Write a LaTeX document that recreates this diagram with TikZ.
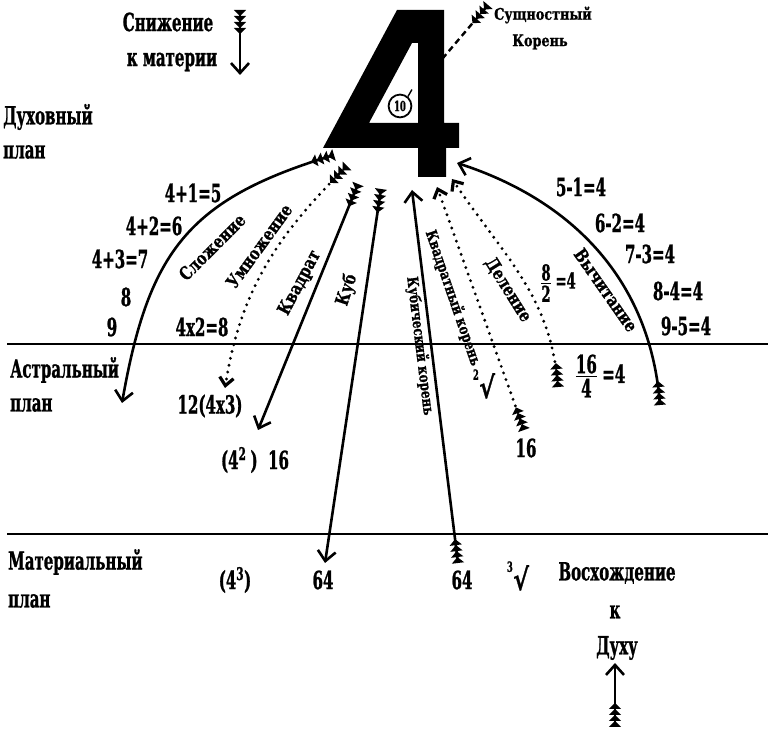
\documentclass[tikz,border=0pt]{standalone}
\usepackage{amsmath}
\usepackage{fontspec}
\setmainfont{DejaVu Serif}[FakeStretch=0.6, BoldFeatures={FakeBold=1}]
\newfontfamily\arrowfont{DejaVu Serif}[FakeStretch=0.8, BoldFeatures={FakeBold=1}]
\usepackage{tikz}
\usetikzlibrary{arrows.meta}
\newcommand\radix[1]{{\fontsize{14}{14}\selectfont\raisebox{1.3em}{#1}}\kern0.5pt{\arrowfont\fontsize{30}{30}\selectfont√}}
\newcommand\frc[2]{$\genfrac{}{}{1.4pt}{}{\mbox{#1}}{\mbox{#2}}$}
\tikzset{
  Fletch/.tip={Triangle[reversed,length=6pt,width=12pt]Triangle[reversed,length=6pt,width=12pt]Triangle[reversed,length=6pt,width=12pt]Triangle[reversed,length=6pt,width=12pt]},
  Head/.tip={Straight Barb[length=10pt,width=18pt]},
  Barb/.tip={Straight Barb[length=8pt,width=14pt]}
}

\begin{document}
\begin{tikzpicture}[x=1pt,y=1pt,
    txt/.style={font=\fontsize{25}{27}\selectfont\bfseries, inner sep=0pt},
    plane/.style={txt, anchor=west},
    lab/.style={font=\arrowfont\fontsize{18}{18}\selectfont\bfseries, inner sep=0pt},
    rlab/.style={font=\arrowfont\fontsize{15}{15}\selectfont\bfseries, inner sep=0pt},
    shaft/.style={line width=2.6pt},
    dots/.style={line width=3.2pt, dash pattern=on 0pt off 7pt, line cap=round},
    arr/.style={shaft, Fletch-Head},
    darr/.style={dots, Fletch-Barb}]
    \useasboundingbox (0,0) rectangle (768,730);
    \coordinate (down-t) at (240,720);
    \coordinate (down-h) at (240,655);
    \coordinate (ess-t) at (488,725);
    \coordinate (ess-h) at (443,672);
    \coordinate (add-t) at (334,575);
    \coordinate (add-h) at (122,327);
    \coordinate (mul-t) at (347,564);
    \coordinate (mul-h) at (225,342);
    \coordinate (sq-t) at (358,546);
    \coordinate (sq-h) at (258,300);
    \coordinate (cube-t) at (381,541);
    \coordinate (cube-h) at (325,167);
    \coordinate (cbrt-t) at (458,167);
    \coordinate (cbrt-h) at (412,540);
    \coordinate (sqrt-t) at (524,300);
    \coordinate (sqrt-h) at (437,543);
    \coordinate (div-t) at (558,343);
    \coordinate (div-h) at (452,551);
    \coordinate (sub-t) at (660,325);
    \coordinate (sub-h) at (457,567);
    \coordinate (up-t) at (615,3);
    \coordinate (up-h) at (615,67);
    % planes
    \draw[line width=2.4pt] (7,386) -- (768,386);
    \draw[line width=2.4pt] (7,196) -- (768,196);
    \node[plane] (spirit) at (3,613) {Духовный};
    \node[plane] (spirit2) at (3,578) {план};
    \node[plane] (astral) at (10,360) {Астральный};
    \node[plane] (astral2) at (10,325) {план};
    \node[plane] (mater) at (8,168) {Материальный};
    \node[plane] (mater2) at (8,129) {план};
    % the four
    \fill[even odd rule] (397,720) -- (444,720) -- (444,607) -- (459,607) -- (459,582) -- (446,582)
        -- (446,553) -- (418,553) -- (418,582) -- (323,582) -- cycle
        (412,687) -- (418,687) -- (418,607) -- (369,607) -- cycle;
    \node[circle, draw, line width=1.8pt, inner sep=2.5pt, font=\fontsize{14}{14}\selectfont\bfseries] (ten) at (400,624) {10};
    \draw[line width=1.4pt] (ten.50) -- ++(4,7);
    \draw[line width=2.4pt, dash pattern=on 6pt off 4pt, Fletch-] (ess-t) -- (ess-h);
    \node[lab, font=\arrowfont\fontsize{16}{16}\selectfont\bfseries] (ess) at (543,715) {Сущностный};
    \node[lab, font=\arrowfont\fontsize{16}{16}\selectfont\bfseries] (ess2) at (540,688) {Корень};
    \draw[arr] (down-t) -- (down-h);
    \node[txt] (down) at (168,708) {Снижение};
    \node[txt] (down2) at (172,668) {к материи};
    % descending
    \draw[arr] (add-t) to[out=197, in=80, looseness=1.2] (add-h);
    \draw[darr] (mul-t) to[out=-135, in=81] (mul-h);
    \draw[arr] (sq-t) -- (sq-h);
    \draw[arr] (cube-t) -- (cube-h);
    \node[lab, rotate=45] (add) at (212,483) {Сложение};
    \node[lab, rotate=54] (mul) at (259,484) {Умножение};
    \node[lab, rotate=62] (sq) at (300,447) {Квадрат};
    \node[lab, rotate=72] (cube) at (347,440) {Куб};
    \node[txt] (a1) at (193,537) {4+1=5};
    \node[txt] (a2) at (154,504) {4+2=6};
    \node[txt] (a3) at (120,471) {4+3=7};
    \node[txt] (a4) at (126,433) {8};
    \node[txt] (a5) at (112,403) {9};
    \node[txt] (m1) at (202,403) {4x2=8};
    \node[txt] (m2) at (210,324) {12(4x3)};
    \node[txt] (s1) at (255,270) {(4\textsuperscript{2}\,)\ \ 16};
    \node[txt] (c1) at (235,150) {(4\textsuperscript{3})};
    \node[txt] (c2) at (323,150) {64};
    % ascending
    \draw[arr] (cbrt-t) -- (cbrt-h);
    \draw[darr] (sqrt-t) -- (sqrt-h);
    \draw[darr] (div-t) to[out=95, in=-56] (div-h);
    \draw[arr] (sub-t) to[out=95, in=-18] (sub-h);
    \node[rlab, rotate=-83] (cbrt) at (420,384) {Кубический корень};
    \node[rlab, rotate=-71] (sqrt) at (453,432) {Квадратный корень};
    \node[lab, rotate=-58] (div) at (508,440) {Деление};
    \node[lab, rotate=-55] (sub) at (606,440) {Вычитание};
    \node[txt] (b1) at (581,543) {5-1=4};
    \node[txt] (b2) at (620,507) {6-2=4};
    \node[txt] (b3) at (650,476) {7-3=4};
    \node[txt] (b4) at (678,439) {8-4=4};
    \node[txt] (b5) at (686,404) {9-5=4};
    \node[txt, font=\fontsize{22}{22}\selectfont\bfseries] (d1) at (558,447) {\frc{8}{2}\,=4};
    \node[txt] (d2) at (600,354) {\frc{16}{4}\,=4};
    \node[txt] (r1) at (484,346) {\radix{2}};
    \node[txt] (r2) at (526,282) {16};
    \node[txt] (c3) at (462,150) {64};
    \node[txt] (c4) at (518,154) {\radix{3}};
    \node[txt] (up) at (617,157) {Восхождение};
    \node[txt] (up2) at (615,118) {к};
    \node[txt] (up3) at (617,82) {Духу};
    \draw[arr] (up-t) -- (up-h);
\end{tikzpicture}
\end{document}
